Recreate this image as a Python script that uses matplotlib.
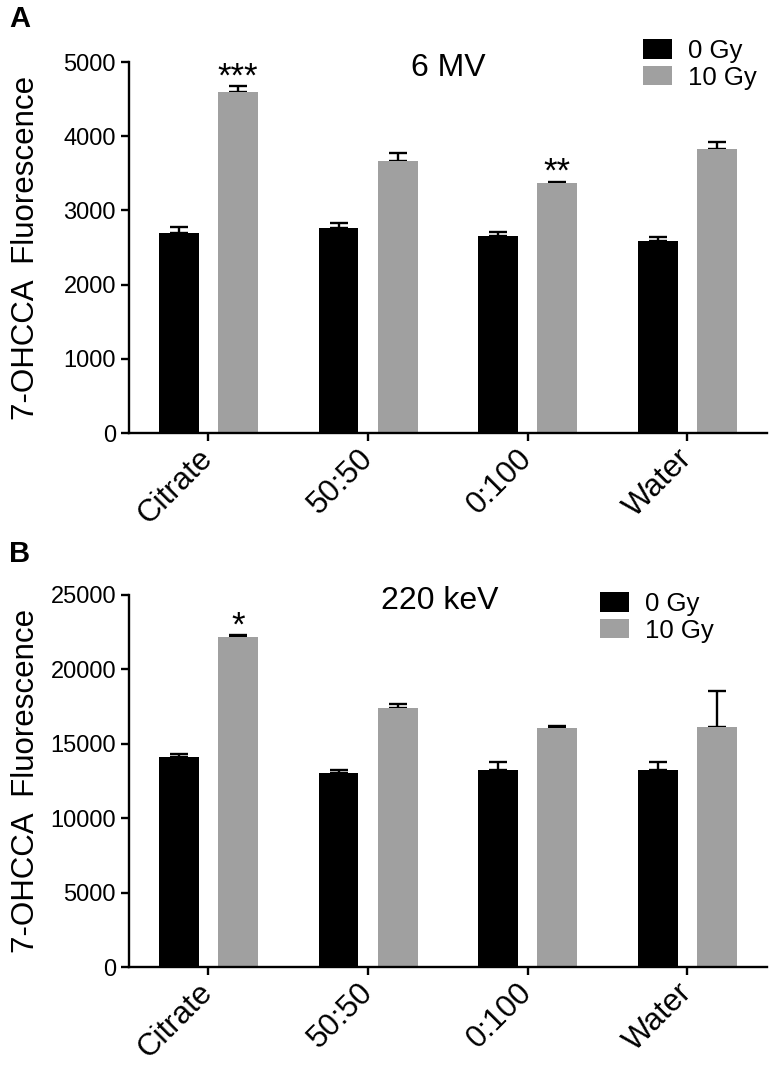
import matplotlib
matplotlib.use("Agg")
import matplotlib.pyplot as plt
from matplotlib.patches import Patch
import numpy as np

plt.rcParams['font.family'] = ['Liberation Sans', 'DejaVu Sans']

categories = ["Citrate", "50:50", "0:100", "Water"]
series_labels = ["0 Gy", "10 Gy"]

# Panel A: 6 MV
a_0gy = [2690, 2760, 2655, 2585]
a_0gy_err = [85, 75, 50, 60]
a_10gy = [4590, 3660, 3365, 3830]
a_10gy_err = [80, 110, 20, 95]
a_sig = ["***", "", "**", ""]
a_ticks = [0, 1000, 2000, 3000, 4000, 5000]

# Panel B: 220 keV
b_0gy = [14110, 13020, 13220, 13240]
b_0gy_err = [200, 220, 580, 560]
b_10gy = [22180, 17380, 16040, 16130]
b_10gy_err = [100, 290, 155, 2410]
b_sig = ["*", "", "", ""]
b_ticks = [0, 5000, 10000, 15000, 20000, 25000]

BLACK = "#000000"
GRAY = "#a0a0a0"

fig = plt.figure(figsize=(7.71, 10.66), dpi=100)


def panel(rect, v0, e0, v1, e1, sig, ticks, title, title_x, leg_anchor, letter, letter_y):
    ax = fig.add_axes(rect)
    x = np.arange(len(categories))
    w = 0.25
    off = 0.185
    ekw = dict(elinewidth=1.7, capthick=1.7, ecolor='black')
    ax.bar(x - off, v0, w, color=BLACK, label=series_labels[0], zorder=2)
    ax.bar(x + off, v1, w, color=GRAY, label=series_labels[1], zorder=2)
    ax.errorbar(x - off, v0, yerr=[np.zeros(len(v0)), e0], fmt='none',
                capsize=6.5, zorder=1, **ekw)
    ax.errorbar(x + off, v1, yerr=[np.zeros(len(v1)), e1], fmt='none',
                capsize=6.5, zorder=1, **ekw)
    for xi, v, e, s in zip(x, v1, e1, sig):
        if s:
            ax.annotate(s, (xi + off, v + e), xytext=(0, 0), textcoords='offset points',
                        ha='center', va='baseline', fontsize=25, annotation_clip=False)
    ax.set_xlim(-0.5, 3.5)
    ax.set_ylim(ticks[0], ticks[-1])
    ax.set_yticks(ticks)
    ax.set_yticklabels([str(t) for t in ticks], fontsize=17)
    ax.set_xticks(x)
    ax.set_xticklabels(categories, rotation=45, ha='right', va='center',
                       rotation_mode='anchor', fontsize=22.5)
    ax.tick_params(axis='both', direction='out', length=6, width=1.7, pad=3)
    ax.tick_params(axis='x', pad=9)
    for s in ['top', 'right']:
        ax.spines[s].set_visible(False)
    for s in ['left', 'bottom']:
        ax.spines[s].set_linewidth(1.7)
    ax.set_ylabel("7-OHCCA  Fluorescence", fontsize=22.5)
    ax.yaxis.set_label_coords(-0.137, 0.5)
    ax.text(title_x, 0.962, title, transform=ax.transAxes, ha='center', va='baseline', fontsize=23)
    handles = [Patch(facecolor=BLACK, edgecolor='none'), Patch(facecolor=GRAY, edgecolor='none')]
    ax.legend(handles, series_labels, loc='upper left', bbox_to_anchor=leg_anchor,
              frameon=False, fontsize=18.5, borderpad=0, borderaxespad=0,
              handlelength=1.13, handleheight=0.78, handletextpad=0.62, labelspacing=0.1)
    fig.text(9 / 771, letter_y, letter, fontsize=21, fontweight='bold', ha='left', va='top')
    return ax


panel([128.5 / 771, 1 - 433 / 1066, 638.8 / 771, 371 / 1066],
      a_0gy, a_0gy_err, a_10gy, a_10gy_err, a_sig, a_ticks, "6 MV", 0.5,
      (0.806, 1.062), "A", 1 - 5 / 1066)
panel([128.5 / 771, 1 - 967.3 / 1066, 638.8 / 771, 372.6 / 1066],
      b_0gy, b_0gy_err, b_10gy, b_10gy_err, b_sig, b_ticks, "220 keV", 0.487,
      (0.738, 1.007), "B", 1 - 540 / 1066)

fig.savefig("out.png", dpi=100)
